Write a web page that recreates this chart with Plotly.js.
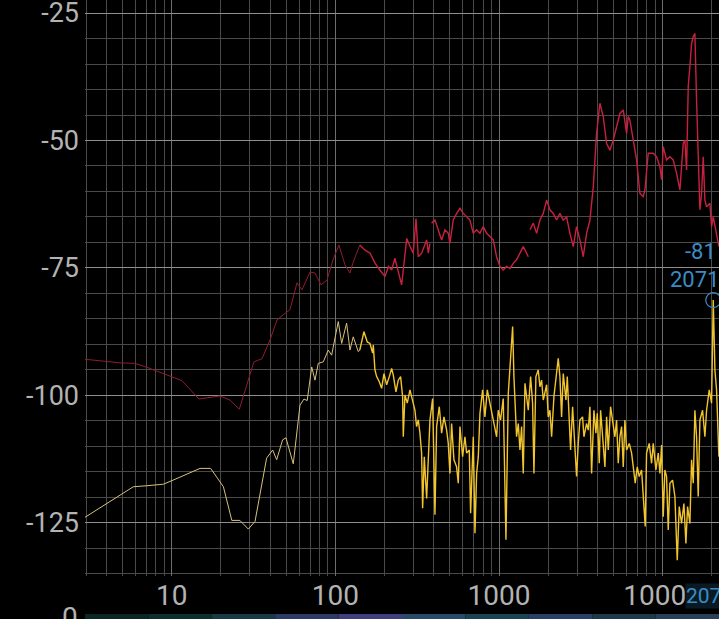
<!DOCTYPE html>
<html>
<head>
<meta charset="utf-8">
<script src="https://cdn.plot.ly/plotly-3.0.1.min.js"></script>
<style>
html,body{margin:0;padding:0;background:#000;}
#chart{width:719px;height:619px;}
</style>
</head>
<body>
<div id="chart"></div>
<script>
// ---- data (Hz, dB) ----
const redFreq = [2.95,4.83,5.97,7.37,9.76,11.56,14.68,19.73,22.7,25.9,31.8,35.6,39.9,44.0,47.9,52.8,58.3,62.5,70.0,75.1,81.7,88.8,96.7,105.2,114.5,122.8,128.1,
  141,152,163,175,187,201,211,221,231,248,254,260,273,286,299,311,321,337,353,361,370,378,null,
  387,406,425,446,467,490,501,525,551,577,605,634,664,696,729,764,801,840,880,922,966,1013,1061,1112,1166,1222,1280,1342,1406,1474,1509,null,
  1545,1619,1696,1778,1863,1953,2046,2145,2247,2355,2469,2587,2711,2841,2977,3120,3269,3427,3592,3764,3945,4133,4332,4541,4758,4987,5226,5477,5741,6016,6158,6304,6606,6923,7257,7603,7784,7969,8158,8751,9173,9614,9840,10074,10558,11064,11595,12150,12735,13348,13663,13988,14321,14660,15010,15367,15726,16100,16482,16874,17276,17684,18103,18533,19425,19885,20359,21330,22040];
const redDb = [-92.9,-93.6,-93.7,-94.7,-96.2,-97.1,-100.7,-100.1,-100.9,-102.7,-93.4,-92.8,-89.1,-85.2,-84.2,-83.2,-77.9,-79.3,-75.8,-76.0,-78.3,-77.4,-73.4,-70.5,-74.4,-76.0,-74.0,
  -70.5,-71.5,-72.1,-74.1,-75.4,-76.7,-74.7,-75.4,-73.1,-77.3,-78.3,-75.4,-69.2,-70.8,-72.1,-65.3,-72.8,-72.1,-70.2,-69.5,-72.1,-70.2,null,
  -66.2,-65.6,-67.5,-69.5,-67.5,-68.2,-70.2,-65.6,-64.3,-63.3,-64.3,-65.0,-65.6,-68.2,-67.5,-68.2,-66.9,-68.2,-68.9,-69.5,-72.8,-74.7,-75.4,-74.7,-75.1,-74.1,-73.4,-72.1,-70.8,-72.1,-72.8,null,
  -67.5,-66.2,-68.2,-65.6,-64.3,-61.7,-63.6,-64.3,-65.6,-64.3,-65.6,-65.0,-68.2,-70.8,-66.9,-69.5,-72.8,-68.2,-65.6,-59.1,-48.6,-42.7,-45.3,-50.6,-51.9,-49.9,-47.3,-44.7,-44.0,-48.6,-45.3,-46.0,-49.9,-53.8,-60.4,-61.0,-59.7,-56.4,-52.5,-52.5,-53.2,-55.1,-57.7,-51.2,-53.8,-53.2,-53.8,-56.4,-59.7,-50.6,-49.9,-55.8,-39.4,-35.5,-31.0,-29.6,-29.0,-42.1,-53.8,-63.6,-60.4,-53.2,-61.7,-63.0,-62.3,-66.9,-65.0,-68.2,-70.8];

const yellowFreq = [2.95,5.83,7.04,8.89,10.2,14.9,17.3,20.7,23.3,26.1,29.4,32.3,38.0,41.4,43.8,47.6,49.9,55.3,60.8,64.3,67.3,71.7,75.1,78.6,84.4,90.5,94.9,99.5,104.2,109.3,117.2,122.8,128.6,138.0,
  141,149.5,156.7,162.7,168.9,170.5,174.5,178.7,185.5,191.7,198.2,205.7,213.6,220.7,225.9,234.5,242.3,250.4,257.6,260.0,266.2,275.0,285.6,296.5,306.4,313.6,321.1,328.7,336.5,341.3,349.4,361.1,369.6,378.4,392.9,406.0,415.6,431.5,445.9,460.8,478.4,489.7,501.2,513.1,530.2,550.5,563.6,577.0,599.1,619.0,633.7,658.0,670.4,696.2,712.7,729.6,746.9,764.6,793.8,820.3,847.6,880.0,913.6,944.1,966.5,989.2,1022,1061,1102,1139,1177,1211,1233,1280,1311,1342,1374,1406,1440,1474,1509,1559,1603,1634,1680,1736,1778,1820,1863,1953,1998,2046,2095,2165,2226,2300,2355,2411,2469,2563,2612,2685,2736,2815,2909,2977,3048,3120,3239,3301,3427,3509,3592,3678,3800,3908,3982,4096,4173,4292,4436,4541,4649,4804,4941,5105,5226,5350,5477,5607,5741,5875,6016,6246,6455,6606,6794,6989,7188,7428,7675,7820,7969,8274,8551,8751,9087,9391,9614,9840,10074,10313,10558,10808,11064,11487,11871,12268,12618,13038,13474,13858,14187,14660,15010,15367,15726,16100,16482,16874,17519,18103,18533,19243,19885,20359,20843,21330,22040];
const yellowDb = [-123.9,-117.9,-117.7,-117.4,-116.6,-114.3,-114.3,-117.9,-124.5,-124.5,-126.2,-124.7,-112.3,-110.7,-112.6,-108.7,-108.3,-113.4,-101.9,-100.7,-101.0,-94.4,-97.0,-93.7,-93.4,-91.1,-92.1,-88.5,-85.5,-89.8,-85.8,-91.1,-88.5,-91.4,
  -91.1,-87.5,-89.5,-89.8,-91.7,-90.1,-95.0,-96.3,-97.3,-98.6,-95.7,-97.9,-96.3,-94.7,-96.0,-99.3,-97.0,-96.3,-100.2,-108.1,-99.9,-101.5,-98.9,-101.2,-102.9,-106.1,-104.8,-107.4,-111.3,-122.1,-112.0,-120.2,-112.0,-104.8,-100.6,-123.4,-106.1,-102.2,-107.4,-104.2,-106.8,-109.4,-115.3,-105.5,-112.6,-114.0,-117.2,-106.1,-112.0,-108.1,-111.3,-110.7,-123.1,-108.1,-127.0,-115.3,-112.0,-103.5,-98.9,-104.2,-98.9,-101.5,-104.2,-106.8,-108.1,-102.9,-104.8,-100.6,-128.3,-99.6,-93.0,-86.5,-96.3,-108.1,-105.5,-110.7,-106.1,-115.3,-97.6,-100.2,-102.9,-96.3,-101.5,-115.3,-96.3,-95.0,-98.3,-97.0,-100.9,-97.9,-104.2,-102.9,-108.1,-100.2,-97.0,-92.7,-96.3,-104.2,-95.7,-100.9,-96.3,-106.1,-110.7,-102.2,-112.0,-115.9,-109.4,-104.8,-104.2,-108.1,-105.5,-106.8,-102.2,-115.3,-102.9,-107.4,-103.5,-113.3,-102.9,-108.1,-114.0,-104.2,-110.7,-102.2,-105.5,-108.1,-104.8,-113.3,-108.1,-106.1,-114.0,-104.8,-110.7,-109.4,-111.3,-114.0,-117.2,-114.0,-115.9,-114.6,-122.5,-125.7,-111.3,-109.4,-113.3,-109.4,-114.6,-111.3,-115.3,-109.7,-123.8,-114.6,-115.9,-126.4,-117.2,-116.6,-119.8,-132.3,-121.8,-125.1,-121.2,-129.0,-121.8,-125.1,-112.6,-117.2,-102.9,-108.1,-119.8,-104.8,-102.9,-108.1,-102.9,-98.9,-101.5,-81.3,-95.0,-98.9,-112.0];

const markerFreq = 20359;
const markerDb = -81.3;
const markerLabelDb = "-81";
const markerLabelHz = "20719";
const bottomTag = "207";

const yTickVals = [-25,-50,-75,-100,-125];
const yTickText = ["-25","-50","-75","-100","-125"];
const xTickVals = [10,100,1000,10000];
const xTickText = ["10","100","1000","10000"];

// ---- split helpers (low-frequency part drawn dimmer, like the reference) ----
function split(fr, db, cut, low) {
  const x = [], y = [];
  for (let i = 0; i < fr.length; i++) {
    const f = fr[i];
    if (f === null) { if (!low) { x.push(null); y.push(null); } continue; }
    if (low ? f <= cut : f >= cut) { x.push(f); y.push(db[i]); }
  }
  return {x, y};
}
const rLow = split(redFreq, redDb, 141, true), rHigh = split(redFreq, redDb, 141, false);
const yLow = split(yellowFreq, yellowDb, 141, true), yHigh = split(yellowFreq, yellowDb, 141, false);

const minorX = [];
[1,10,100,1000,10000].forEach(d => { for (let k = 2; k <= 9; k++) if (d*k < 23000) minorX.push(d*k); });

const traces = [
  {x: rLow.x, y: rLow.y, type: 'scatter', mode: 'lines', line: {color: '#8e1d30', width: 1}, hoverinfo: 'skip'},
  {x: rHigh.x, y: rHigh.y, type: 'scatter', mode: 'lines', line: {color: '#c8213f', width: 1.4}, hoverinfo: 'skip'},
  {x: yLow.x, y: yLow.y, type: 'scatter', mode: 'lines', line: {color: '#d6c27c', width: 1}, hoverinfo: 'skip'},
  {x: yHigh.x, y: yHigh.y, type: 'scatter', mode: 'lines', line: {color: '#f2c52c', width: 1.4}, hoverinfo: 'skip'},
  {x: [markerFreq], y: [markerDb], type: 'scatter', mode: 'markers',
   marker: {symbol: 'circle-open', size: 15, color: '#3b8cc4', line: {width: 1.2, color: '#3b8cc4'}}, hoverinfo: 'skip'}
];

const stripColors = ['#0c2626','#0f2e2e','#183a44','#2c3a66','#3e3f7e','#2a4a6a','#1c4450','#2a3f66','#1e3a48','#28405a'];
const shapes = stripColors.map((c, i) => ({
  type: 'rect', xref: 'paper', yref: 'paper', layer: 'above',
  x0: i / stripColors.length, x1: (i + 1) / stripColors.length,
  y0: -0.2, y1: -(614 - 576) / 576, fillcolor: c, line: {width: 0}
}));

const layout = {
  width: 719, height: 619,
  margin: {l: 85, r: 0, t: 0, b: 43, pad: 0},
  paper_bgcolor: '#000', plot_bgcolor: '#000',
  showlegend: false,
  font: {family: 'Roboto, sans-serif', color: '#b3b3b3', size: 28},
  xaxis: {
    type: 'log', range: [0.4704, 4.3439],
    tickmode: 'array', tickvals: xTickVals, ticktext: xTickText,
    showgrid: true, gridcolor: '#6e6e6e', gridwidth: 1,
    minor: {tickmode: 'array', tickvals: minorX, showgrid: true, gridcolor: '#4a4a4a', gridwidth: 1},
    zeroline: false, showline: false, ticks: '', ticklabeloverflow: 'allow',
    tickfont: {family: 'Roboto, sans-serif', size: 28, color: '#b3b3b3'}
  },
  yaxis: {
    range: [-135.4, -22.45],
    tickmode: 'array', tickvals: yTickVals, ticktext: yTickText,
    showgrid: true, gridcolor: '#8f8f8f', gridwidth: 1,
    minor: {dtick: 5, tick0: 0, showgrid: true, gridcolor: '#4a4a4a', gridwidth: 1},
    zeroline: false, showline: false, ticks: '', ticklabeloverflow: 'allow', ticklabelstandoff: 5,
    tickfont: {family: 'Roboto, sans-serif', size: 27, color: '#b3b3b3'}
  },
  shapes: shapes,
  annotations: [
    {x: Math.log10(markerFreq), y: markerDb, xref: 'x', yref: 'y', text: markerLabelDb, showarrow: false,
     xanchor: 'left', yanchor: 'middle', xshift: -30, yshift: 49, font: {family: 'Roboto, sans-serif', size: 22, color: '#3b8cc4'}},
    {x: Math.log10(markerFreq), y: markerDb, xref: 'x', yref: 'y', text: markerLabelHz, showarrow: false,
     xanchor: 'left', yanchor: 'middle', xshift: -45, yshift: 21, font: {family: 'Roboto, sans-serif', size: 22, color: '#3b8cc4'}},
    {x: 1, y: -(583 - 576) / 576, xref: 'paper', yref: 'paper', text: bottomTag, showarrow: false,
     xanchor: 'left', yanchor: 'top', xshift: -34, bgcolor: '#0a1a24', borderpad: 0,
     font: {family: 'Roboto, sans-serif', size: 21, color: '#3b8cc4'}},
    {x: -(85 - 60) / 634, y: -(599 - 576) / 576, xref: 'paper', yref: 'paper', text: '0', showarrow: false,
     xanchor: 'left', yanchor: 'top', font: {family: 'Roboto, sans-serif', size: 28, color: '#b3b3b3'}}
  ]
};

Plotly.newPlot('chart', traces, layout, {staticPlot: true, displayModeBar: false});
</script>
</body>
</html>
